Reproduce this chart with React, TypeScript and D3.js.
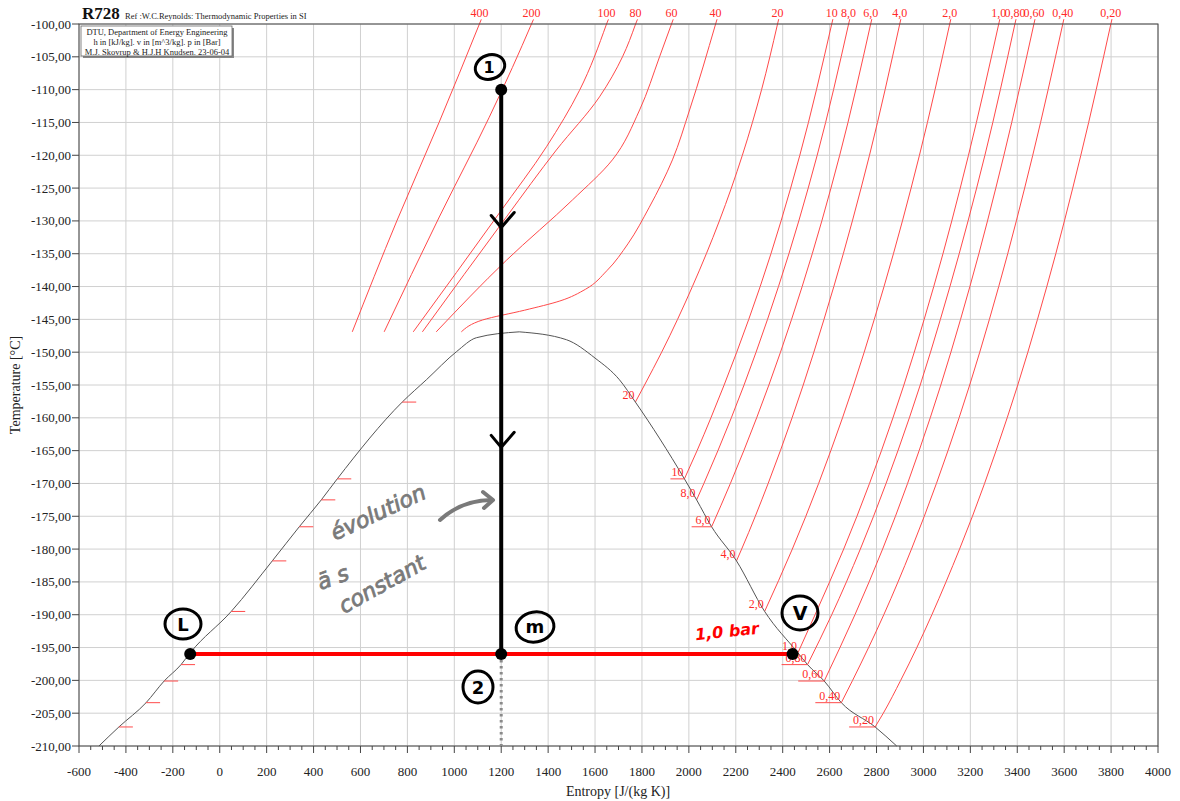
import React from "react";
import * as d3 from "d3";

type Pt = [number, number];

// Axis ticks
const xTickValues = [-600,-400,-200,0,200,400,600,800,1000,1200,1400,1600,1800,2000,2200,2400,2600,2800,3000,3200,3400,3600,3800,4000];
const yTickValues = [-100,-105,-110,-115,-120,-125,-130,-135,-140,-145,-150,-155,-160,-165,-170,-175,-180,-185,-190,-195,-200,-205,-210];

// Saturation dome (entropy J/kgK, temperature °C)
const liquidLine: Pt[] = [[-515,-210],[-430,-207.1],[-314,-203.4],[-237,-200.1],[-165,-197.6],[-126,-195.8],[49,-189.5],[224,-181.8],[339,-176.6],[433,-172.5],[501,-169.3],[778,-157.6],[881,-154.2],[1010,-149.9],[1094,-147.8],[1277,-146.9]];
const vaporLine: Pt[] = [[1277,-146.9],[1478,-148.1],[1600,-150.9],[1704,-154.2],[1772,-157.6],[1981,-169.3],[2033,-172.5],[2097,-176.6],[2203,-181.8],[2323,-189.5],[2465,-195.8],[2506,-197.6],[2577,-200.1],[2650,-203.4],[2794,-207.1],[2886,-210]];

// Isobars (bar)
const p400: Pt[] = [[565,-146.9],[755,-130],[935,-115],[1107,-100]];
const p200: Pt[] = [[701,-146.9],[936,-129.4],[1149,-114.2],[1248,-106.6],[1329,-100]];
const p100: Pt[] = [[825,-146.9],[1192,-128.8],[1393,-118.7],[1534,-110.1],[1649,-100]];
const p80: Pt[] = [[864,-146.9],[1222,-129.4],[1435,-119.2],[1619,-111.1],[1717,-105],[1773,-100]];
const p60: Pt[] = [[923,-146.9],[1222,-136],[1504,-126.8],[1674,-120.7],[1790,-113.1],[1875,-105],[1926,-100]];
const p40: Pt[] = [[1030,-146.9],[1120,-145.1],[1300,-143.6],[1450,-142.2],[1560,-140.4],[1650,-137.6],[1740,-133.5],[1830,-128],[1930,-120.7],[2003,-113.1],[2114,-100]];
const p20: Pt[] = [[1772,-157.6],[1811,-155],[1884,-150],[2015,-140],[2130,-130],[2228,-120],[2310,-110],[2378,-100]];
const p10: Pt[] = [[1981,-169.3],[2035,-165],[2094,-160],[2204,-150],[2304,-140],[2473,-120],[2609,-100]];
const p8: Pt[] = [[2033,-172.5],[2064,-170],[2181,-160],[2382,-140],[2547,-120],[2681,-100]];
const p6: Pt[] = [[2097,-176.6],[2177,-170],[2289,-160],[2483,-140],[2643,-120],[2775,-100]];
const p4: Pt[] = [[2203,-181.8],[2225,-180],[2338,-170],[2440,-160],[2618,-140],[2770,-120],[2899,-100]];
const p2: Pt[] = [[2323,-189.5],[2441,-180],[2655,-160],[2832,-140],[2983,-120],[3112,-100]];
const p1: Pt[] = [[2465,-195.8],[2538,-190],[2660,-180],[2870,-160],[3044,-140],[3192,-120],[3321,-100]];
const p08: Pt[] = [[2506,-197.6],[2609,-190],[2731,-180],[2940,-160],[3113,-140],[3262,-120],[3390,-100]];
const p06: Pt[] = [[2577,-200.1],[2708,-190],[2826,-180],[3029,-160],[3198,-140],[3343,-120],[3471,-100]];
const p04: Pt[] = [[2650,-203.4],[2698,-200],[2831,-190],[2949,-180],[3152,-160],[3321,-140],[3466,-120],[3594,-100]];
const p02: Pt[] = [[2794,-207.1],[2829,-205],[2903,-200],[3154,-180],[3357,-160],[3526,-140],[3671,-120],[3799,-100]];

const isobars: Pt[][] = [p400,p200,p100,p80,p60,p40,p20,p10,p8,p6,p4,p2,p1,p08,p06,p04,p02];
const topLabels = ["400","200","100","80","60","40","20","10","8,0","6,0","4,0","2,0","1,0","0,80","0,60","0,40","0,20"];

// Saturation labels
const satLabels = ["20","10","8,0","6,0","4,0","2,0","1,0","0,80","0,60","0,40","0,20"];
const satT = [-157.6,-169.3,-172.5,-176.6,-181.8,-189.5,-195.8,-197.6,-200.1,-203.4,-207.1];
const satVapS = [1772,1981,2033,2097,2203,2323,2465,2506,2577,2650,2794];
const satLiqS = [778,501,433,339,224,49,-126,-165,-237,-314,-430];
const satUnderlined = [false,true,false,true,false,false,false,true,true,true,true];

// Process states
const state1: Pt = [1200,-110];
const stateM: Pt = [1200,-196];
const stateL: Pt = [-126,-196];
const stateV: Pt = [2442,-196];
const arrowTemps = [-131,-164.5];

const W = 1180, H = 801;
const L = 79, R = 1158, T = 24, B = 746;

export default function App() {
  const x = d3.scaleLinear().domain([-600, 4000]).range([L, R]);
  const y = d3.scaleLinear().domain([-210, -100]).range([B, T]);
  const curve = d3.line<Pt>().x(d => x(d[0])).y(d => y(d[1])).curve(d3.curveMonotoneY);
  const dome = d3.line<Pt>().x(d => x(d[0])).y(d => y(d[1])).curve(d3.curveMonotoneX);
  const minor = d3.range(-600, 4001, 50);
  const serif = "'Liberation Serif', 'Times New Roman', serif";
  const hand = "'DejaVu Sans', sans-serif";
  const red = "#ff4a4a";
  const fmtY = (v: number) => v.toFixed(2).replace(".", ",");

  return (
    <svg width={W} height={H} style={{ position: "absolute", left: 0, top: 0, background: "#fff" }} fontFamily={serif}>
      <defs>
        <clipPath id="plot"><rect x={L} y={T} width={R - L} height={B - T} /></clipPath>
      </defs>
      <rect x={0} y={0} width={W} height={H} fill="#fff" />
      {/* grid */}
      {xTickValues.map(v => <line key={"gx" + v} x1={x(v)} x2={x(v)} y1={T} y2={B} stroke="#d0d0d0" strokeWidth={1} />)}
      {yTickValues.map(v => <line key={"gy" + v} x1={L} x2={R} y1={y(v)} y2={y(v)} stroke="#d0d0d0" strokeWidth={1} />)}

      {/* isobars */}
      <g clipPath="url(#plot)">
        {isobars.map((pts, i) => <path key={"iso" + i} d={curve(pts) || ""} fill="none" stroke={red} strokeWidth={1} />)}
      </g>
      {isobars.map((pts, i) => {
        const a = pts[pts.length - 2], b = pts[pts.length - 1];
        const x1 = x(b[0]), y1 = y(b[1]);
        const dx = x(b[0]) - x(a[0]), dy = y(b[1]) - y(a[1]);
        const len = Math.hypot(dx, dy);
        return <g key={"top" + i}>
          <line x1={x1} y1={y1} x2={x1 + dx / len * 5} y2={y1 + dy / len * 5} stroke={red} strokeWidth={1} />
          <text x={x1} y={17} textAnchor="middle" fontSize={12} fill="#ff2a2a">{topLabels[i]}</text>
        </g>;
      })}

      {/* dome */}
      <path d={dome(liquidLine) || ""} fill="none" stroke="#555" strokeWidth={1} />
      <path d={dome(vaporLine) || ""} fill="none" stroke="#555" strokeWidth={1} />

      {/* saturation ticks and labels */}
      {satT.map((t, i) => {
        const xl = x(satLiqS[i]), xv = x(satVapS[i]), yy = y(t);
        const w = satLabels[i].length * 6 + 2;
        return <g key={"sat" + i}>
          <line x1={xl} x2={xl + 14} y1={yy} y2={yy} stroke={red} strokeWidth={1} />
          {satUnderlined[i] && <line x1={xv - w} x2={xv} y1={yy} y2={yy} stroke={red} strokeWidth={1} />}
          <text x={xv - 1} y={yy - 3} textAnchor="end" fontSize={12} fill="#ff2a2a">{satLabels[i]}</text>
        </g>;
      })}

      {/* frame and axes */}
      <rect x={L} y={T} width={R - L} height={B - T} fill="none" stroke="#444" strokeWidth={1} />
      {yTickValues.map(v => <g key={"yt" + v}>
        <line x1={L - 7} x2={L} y1={y(v)} y2={y(v)} stroke="#444" />
        <text x={L - 8} y={y(v)} dy="0.35em" textAnchor="end" fontSize={13} fill="#222">{fmtY(v)}</text>
      </g>)}
      {minor.map(v => <line key={"mx" + v} x1={x(v)} x2={x(v)} y1={B} y2={B + (v % 200 === 0 ? 7 : 4)} stroke="#444" />)}
      {xTickValues.map(v => <text key={"xt" + v} x={x(v)} y={776} textAnchor="middle" fontSize={13} fill="#222">{v}</text>)}
      <text x={618} y={796} textAnchor="middle" fontSize={14} fill="#222">Entropy [J/(kg K)]</text>
      <text transform={`translate(20,385) rotate(-90)`} textAnchor="middle" fontSize={14} fill="#222">Temperature [°C]</text>

      {/* title block */}
      <text x={82} y={19} fontSize={17} fontWeight="bold" fill="#111">R728</text>
      <text x={125} y={19} fontSize={8.5} fill="#222">Ref :W.C.Reynolds: Thermodynamic Properties in SI</text>
      <rect x={83} y={28} width={151} height={30} fill="#888" />
      <rect x={81} y={26} width={151} height={30} fill="#fff" stroke="#666" strokeWidth={0.8} />
      <text x={157} y={35} textAnchor="middle" fontSize={8.5} fill="#222">DTU, Department of Energy Engineering</text>
      <text x={157} y={45} textAnchor="middle" fontSize={8.5} fill="#222">h in [kJ/kg]. v in [m^3/kg]. p in [Bar]</text>
      <text x={157} y={55} textAnchor="middle" fontSize={8.5} fill="#222">M.J. Skovrup &amp; H.J.H Knudsen. 23-06-04</text>

      {/* process */}
      <line x1={x(stateM[0])} x2={x(stateM[0])} y1={y(stateM[1])} y2={B} stroke="#8a8a8a" strokeWidth={3} strokeDasharray="2.5,3.5" />
      <line x1={x(stateL[0])} x2={x(stateV[0])} y1={y(stateL[1])} y2={y(stateV[1])} stroke="#ff0000" strokeWidth={4} />
      <line x1={x(state1[0])} x2={x(stateM[0])} y1={y(state1[1])} y2={y(stateM[1])} stroke="#000" strokeWidth={4} />
      {arrowTemps.map(t => {
        const cx = x(state1[0]), cy = y(t);
        return <path key={"ar" + t} d={`M${cx - 10},${cy - 12} L${cx},${cy} L${cx + 13},${cy - 15}`} fill="none" stroke="#000" strokeWidth={3} strokeLinecap="round" strokeLinejoin="round" />;
      })}
      {[state1, stateM, stateL, stateV].map((s, i) => <circle key={"st" + i} cx={x(s[0])} cy={y(s[1])} r={6} fill="#000" />)}

      {/* hand annotations */}
      <g fill="none" stroke="#000" strokeWidth={3}>
        <ellipse cx={490} cy={67} rx={15} ry={12} transform="rotate(-20 490 67)" />
        <ellipse cx={183} cy={624} rx={18} ry={15} />
        <ellipse cx={535} cy={627} rx={19} ry={15} transform="rotate(-10 535 627)" />
        <ellipse cx={478} cy={687} rx={15} ry={16} />
        <ellipse cx={800} cy={613} rx={18} ry={17} />
      </g>
      <g fontFamily={hand} fontWeight="bold" fill="#000" textAnchor="middle">
        <text x={489} y={73} fontSize={16}>1</text>
        <text x={183} y={631} fontSize={18}>L</text>
        <text x={535} y={633} fontSize={18}>m</text>
        <text x={478} y={694} fontSize={18}>2</text>
        <text x={800} y={620} fontSize={19}>V</text>
      </g>
      <text x={727} y={637} transform="rotate(-6 727 632)" textAnchor="middle" fontFamily={hand} fontWeight="bold" fontStyle="italic" fontSize={16} fill="#ff0000">1,0 bar</text>
      <g fontFamily={hand} fill="#7a7a7a" fontSize={22} fontStyle="italic" stroke="#7a7a7a" strokeWidth={0.8} textAnchor="middle">
        <text x={378} y={520} transform="rotate(-25 378 512)">évolution</text>
        <text x={333} y={585} transform="rotate(-20 333 578)">ā s</text>
        <text x={381} y={592} transform="rotate(-29 381 582)">constant</text>
      </g>
      <path d="M440,520 Q462,500 492,500" fill="none" stroke="#7a7a7a" strokeWidth={4} strokeLinecap="round" />
      <path d="M483,492 L493,500 L484,508" fill="none" stroke="#7a7a7a" strokeWidth={4} strokeLinecap="round" strokeLinejoin="round" />
    </svg>
  );
}
